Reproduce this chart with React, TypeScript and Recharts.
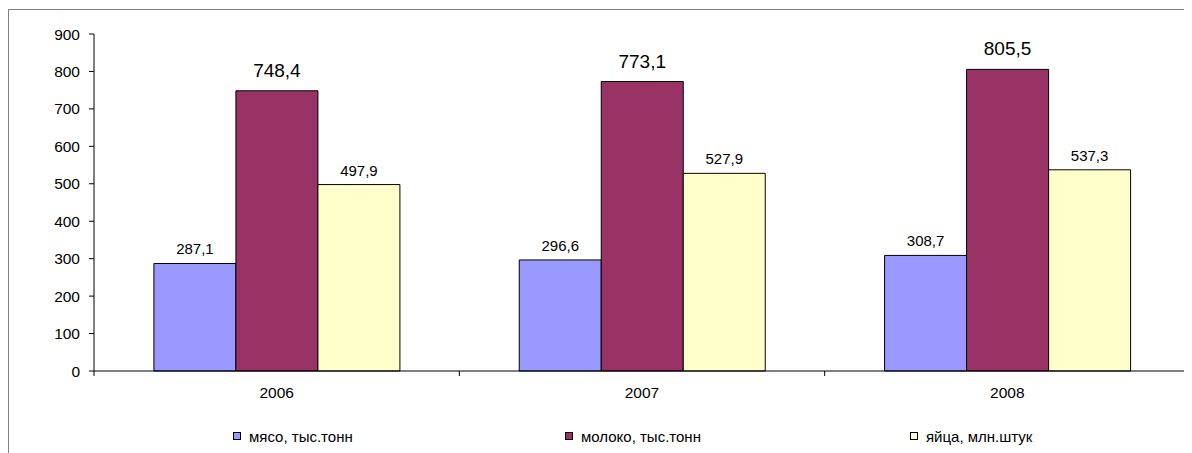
import React from 'react';
import { BarChart, Bar, XAxis, YAxis, LabelList, Legend } from 'recharts';

const years = ['2006', '2007', '2008'];
const meat = [287.1, 296.6, 308.7];
const milk = [748.4, 773.1, 805.5];
const eggs = [497.9, 527.9, 537.3];
const yTicks = [0, 100, 200, 300, 400, 500, 600, 700, 800, 900];

const seriesNames = ['мясо, тыс.тонн', 'молоко, тыс.тонн', 'яйца, млн.штук'];
const seriesColors = ['#9999FF', '#993366', '#FFFFCC'];
const seriesKeys = ['meat', 'milk', 'eggs'];

const data = years.map((y, i) => ({ year: y, meat: meat[i], milk: milk[i], eggs: eggs[i] }));

const FONT = '"Liberation Sans", Arial, sans-serif';
const fmt = (v: any) => Number(v).toFixed(1).replace('.', ',');

const XTick = (props: any) => {
  const { x, y, payload, index } = props;
  const off = payload && payload.offset ? payload.offset : 0;
  const last = index === years.length - 1;
  return (
    <g>
      <line x1={x - off} x2={x - off} y1={y} y2={y + 5} stroke="#000" strokeWidth={1} />
      {last && <line x1={x + off} x2={x + off} y1={y} y2={y + 5} stroke="#000" strokeWidth={1} />}
      <text x={x} y={y + 27} textAnchor="middle" fill="#000" fontSize={15.5} fontFamily={FONT}>
        {payload.value}
      </text>
    </g>
  );
};

const legendLefts = [224, 556, 901];

const LegendContent = () => (
  <div style={{ position: 'relative', width: 1183, height: 16, fontFamily: FONT, fontSize: 15, color: '#000' }}>
    {seriesNames.map((n, i) => (
      <div key={n} style={{ position: 'absolute', left: legendLefts[i], top: 0, display: 'flex', alignItems: 'center', height: 16 }}>
        <span style={{ display: 'inline-block', width: 6, height: 6, background: seriesColors[i], border: '1px solid #000', marginRight: 8 }} />
        <span style={{ whiteSpace: 'nowrap' }}>{n}</span>
      </div>
    ))}
  </div>
);

export default function App() {
  return (
    <div style={{ marginTop: 1, width: 1183, height: 443, borderTop: '1px solid #808080', borderLeft: '1px solid #808080', background: '#fff' }}>
      <BarChart
        width={1183}
        height={443}
        data={data}
        margin={{ top: 24, right: 2, left: 0, bottom: 52 }}
        barCategoryGap="16.4%"
        barGap={0}
      >
        <XAxis
          dataKey="year"
          height={30}
          tickLine={false}
          tickSize={0}
          tickMargin={0}
          axisLine={{ stroke: '#000' }}
          tick={<XTick />}
          interval={0}
        />
        <YAxis
          width={85}
          domain={[0, 900]}
          ticks={yTicks}
          interval={0}
          tickSize={5}
          tickMargin={9}
          axisLine={{ stroke: '#000' }}
          tickLine={{ stroke: '#000' }}
          tick={{ fill: '#000', fontSize: 15.5, fontFamily: FONT }}
        />
        <Legend
          layout="horizontal"
          verticalAlign="middle"
          align="center"
          wrapperStyle={{ top: 418, left: 0, width: 1183 }}
          content={<LegendContent />}
        />
        {seriesKeys.map((k, i) => (
          <Bar key={k} dataKey={k} name={seriesNames[i]} fill={seriesColors[i]} stroke="#000" strokeWidth={1} isAnimationActive={false}>
            <LabelList
              dataKey={k}
              position="top"
              offset={k === 'milk' ? 14 : 9}
              formatter={fmt}
              fill="#000"
              fontSize={k === 'milk' ? 19 : 15}
              fontFamily={FONT}
            />
          </Bar>
        ))}
      </BarChart>
    </div>
  );
}
